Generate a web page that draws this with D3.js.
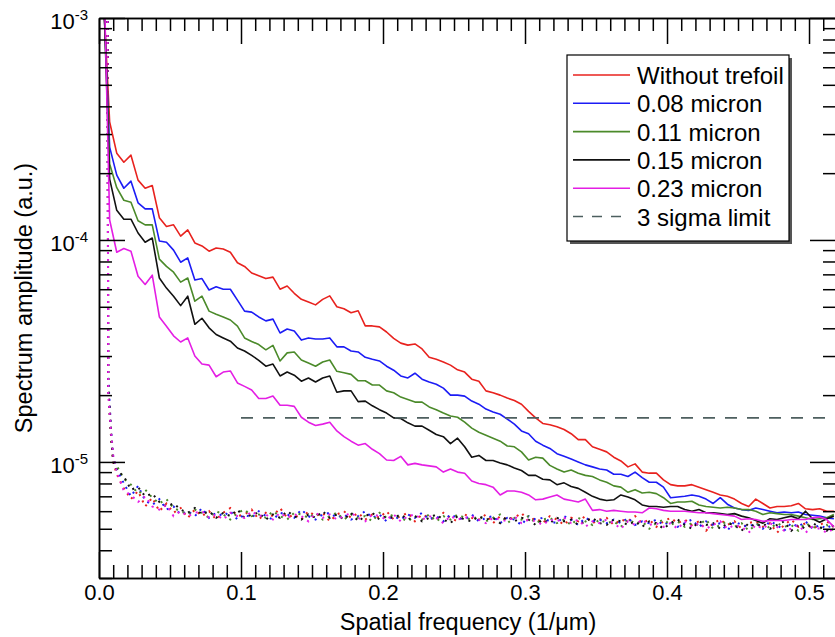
<!DOCTYPE html>
<meta charset="utf-8">
<script src="https://d3js.org/d3.v7.min.js"></script>
<style>
  body { margin: 0; background: #fff; }
  text { font-family: "Liberation Sans", Arial, Helvetica, sans-serif; fill: #000; }
</style>
<div id="chart"></div>
<script>

// spatial frequency grid (1/um) of the measured spectra
var freq = [0.0025, 0.0075, 0.0125, 0.0175, 0.0225, 0.0275, 0.0325, 0.0375, 0.0425, 0.0475,
  0.0525, 0.0575, 0.0625, 0.0675, 0.0725, 0.0775, 0.0825, 0.0875, 0.0925, 0.0975,
  0.1025, 0.1075, 0.1125, 0.1175, 0.1225, 0.1275, 0.1325, 0.1375, 0.1425, 0.1475,
  0.1525, 0.1575, 0.1625, 0.1675, 0.1725, 0.1775, 0.1825, 0.1875, 0.1925, 0.1975,
  0.2025, 0.2075, 0.2125, 0.2175, 0.2225, 0.2275, 0.2325, 0.2375, 0.2425, 0.2475,
  0.2525, 0.2575, 0.2625, 0.2675, 0.2725, 0.2775, 0.2825, 0.2875, 0.2925, 0.2975,
  0.3025, 0.3075, 0.3125, 0.3175, 0.3225, 0.3275, 0.3325, 0.3375, 0.3425, 0.3475,
  0.3525, 0.3575, 0.3625, 0.3675, 0.3725, 0.3775, 0.3825, 0.3875, 0.3925, 0.3975,
  0.4025, 0.4075, 0.4125, 0.4175, 0.4225, 0.4275, 0.4325, 0.4375, 0.4425, 0.4475,
  0.4525, 0.4575, 0.4625, 0.4675, 0.4725, 0.4775, 0.4825, 0.4875, 0.4925, 0.4975,
  0.5025, 0.5075, 0.5125, 0.5175];

// spectrum amplitudes, in units of 1e-6 (a.u.)
var withoutTrefoil = [1500, 340, 246, 224, 241, 186, 171, 176, 126, 115,
  117, 104, 111, 97, 94, 89, 92, 91, 88, 79,
  76, 71, 69, 67, 68, 60, 62, 57.5, 54, 52.5,
  51, 54, 56, 50, 49, 47, 48, 41, 41, 40.6,
  38.5, 36, 34.3, 33.6, 34, 32.3, 29.6, 29, 28.2, 27.3,
  26, 25.4, 23.6, 23.1, 20.9, 20.5, 20, 19.4, 18.9, 18.2,
  16.9, 15.8, 14.9, 14.7, 14.4, 14.0, 13.4, 12.6, 12.6, 11.7,
  11.4, 11.1, 10.5, 10.1, 9.5, 9.8, 9.0, 8.9, 8.9, 8.3,
  7.9, 7.8, 7.8, 7.9, 7.7, 7.5, 7.3, 7.1, 7.0, 6.8,
  6.5, 6.3, 6.8, 6.5, 6.2, 6.3, 6.3, 6.35, 6.5, 6.15,
  6.1, 6.15, 6.0, 6.0];
var micron008 = [1650, 262, 196, 171, 184, 147, 138, 138, 99, 97.7,
  90, 79.4, 83, 66, 67, 59.5, 61.5, 60, 60, 53.6,
  47.8, 47.3, 45, 43.2, 44, 38.1, 39.7, 38.9, 35.4, 36.2,
  35.8, 35.8, 36.2, 33, 33, 31.6, 31.3, 29.6, 29, 28.5,
  27, 25.9, 24.4, 23.9, 25.1, 23.6, 22.9, 22.4, 21.5, 20,
  20, 19.8, 18.8, 18.2, 17.3, 16.8, 16.4, 15.6, 14.8, 13.8,
  13.4, 12.4, 11.9, 11.5, 10.9, 10.6, 10.3, 10.0, 9.7, 9.5,
  9.3, 9.2, 8.8, 8.8, 8.6, 9.0, 8.5, 8.1, 8.1, 7.7,
  6.9, 6.95, 7.0, 7.1, 7.0, 6.8, 6.5, 6.9, 6.45, 6.2,
  6.1, 6.05, 6.2, 6.1, 6.0, 5.9, 5.95, 5.9, 5.95, 5.8,
  5.75, 5.7, 5.6, 5.55];
var micron011 = [1770, 220, 172, 151, 148, 122, 117, 117, 82, 76,
  71.6, 64.6, 67.4, 53, 55.8, 47.8, 46.3, 45, 43.6, 40.9,
  36.2, 34.9, 33.8, 32, 33.5, 28.5, 31, 31.3, 28.8, 27.9,
  27, 28.2, 28.8, 25.6, 25.2, 24.8, 23.2, 23.2, 22.2, 22.2,
  20.9, 20.5, 19.6, 19.1, 18.6, 18.6, 17.7, 17.2, 16.6, 16.1,
  15.9, 15.1, 14.2, 13.6, 13.2, 12.8, 12.4, 11.8, 11.7, 11.1,
  10.2, 10.5, 10.4, 9.65, 9.3, 9.0, 9.2, 8.9, 8.7, 8.6,
  8.3, 8.1, 7.8, 7.7, 7.3, 7.5, 7.25, 7.3, 7.2, 6.9,
  6.5, 6.6, 6.6, 6.65, 6.4, 6.3, 6.25, 6.2, 6.25, 6.2,
  6.1, 6.1, 6.0, 5.8, 5.9, 5.85, 5.8, 5.8, 5.7, 5.6,
  5.5, 5.55, 5.6, 5.8];
var micron015 = [1880, 188, 136, 124, 124, 107.5, 97.7, 102, 67.4, 60.7,
  55.8, 50.6, 55.8, 41.7, 44.4, 40.2, 37.5, 36.2, 35, 32.6,
  31.6, 30.2, 28.7, 27, 27.6, 24.4, 25.4, 24.6, 23.1, 23.9,
  22.9, 23.9, 24.4, 20.6, 20.9, 20.9, 18.7, 18.8, 17.9, 17.2,
  16.6, 15.8, 15.7, 15.0, 14.5, 14.5, 13.9, 13.3, 13.0, 12.1,
  12.8, 11.7, 10.5, 10.7, 10.15, 10.15, 9.9, 9.7, 9.4, 9.15,
  8.7, 8.7, 8.35, 8.3, 7.9, 8.05, 7.75, 7.6, 7.3, 7.0,
  6.8, 6.7, 6.75, 7.1, 6.95, 6.75, 6.4, 6.3, 6.3, 6.25,
  6.3, 6.3, 6.1, 6.0, 6.1, 5.9, 5.9, 5.85, 5.8, 5.85,
  5.7, 5.6, 5.45, 5.3, 5.55, 5.5, 5.6, 5.7, 5.55, 6.0,
  5.55, 5.35, 5.55, 5.7];
var micron023 = [3000, 123, 88, 91.5, 89, 68.6, 63, 69.4, 45, 40.9,
  37, 34.7, 36.2, 30, 27.6, 27.3, 24.2, 25.4, 25.7, 22.7,
  21.9, 21.1, 19.3, 19.3, 19.8, 18.0, 18.0, 17.8, 15.9, 15.1,
  14.6, 14.8, 15.1, 13.8, 13.0, 12.4, 11.9, 12.1, 11.4, 10.9,
  10.2, 10.15, 10.6, 9.7, 9.85, 9.7, 9.6, 9.5, 9.0, 9.3,
  9.0, 8.9, 8.2, 8.0, 7.9, 7.7, 7.1, 7.4, 7.4, 7.3,
  7.1, 6.75, 6.8, 6.95, 7.1, 6.8, 6.7, 6.6, 6.8, 6.05,
  6.1, 6.0, 6.05, 6.0, 5.95, 5.95, 5.9, 6.2, 6.15, 6.05,
  6.0, 6.0, 6.0, 5.95, 5.9, 5.9, 5.85, 5.8, 5.75, 5.7,
  5.5, 5.55, 5.5, 5.4, 5.45, 5.45, 5.45, 5.5, 5.5, 5.5,
  5.6, 5.65, 5.5, 5.1];

// noise spectra (dotted), first four points on their own finer grid
var noiseStart = [0.006, 0.0065, 0.0085, 0.01];
var noiseWithoutTrefoil = [1500, 22, 13, 10,
  8.8, 7.6, 6.8, 7.4, 6.3, 6.9, 6.0, 6.5, 5.9, 6.2,
  5.6, 6.1, 5.7, 6.0, 5.5, 5.9, 6.2, 5.7, 5.8, 6.1,
  5.5, 5.9, 5.7, 6.2, 5.6, 5.8, 5.5, 6.0, 5.7, 5.9,
  5.4, 5.8, 6.0, 5.6, 5.9, 5.5, 5.8, 5.6, 6.0, 5.5,
  5.7, 5.9, 5.4, 5.8, 5.6, 5.5, 5.9, 5.6, 5.4, 5.8,
  5.6, 5.5, 5.8, 5.3, 5.7, 5.5, 5.6, 5.9, 5.4, 5.6,
  5.3, 5.7, 5.5, 5.2, 5.6, 5.4, 5.7, 5.3, 5.5, 5.6,
  5.2, 5.5, 5.4, 5.7, 5.3, 5.5, 5.1, 5.4, 5.6, 5.3,
  5.5, 5.2, 5.4, 4.9, 5.3, 5.5, 5.2, 5.4, 5.0, 5.3,
  5.4, 5.1, 5.3, 4.8, 5.2, 5.5, 5.1, 5.3, 5.0, 5.2,
  5.4, 5.1];
var noise008 = [1500, 24, 14, 10.5,
  9.3, 8.0, 7.0, 7.8, 6.7, 6.4, 6.8, 6.1, 6.3, 5.8,
  6.0, 5.7, 6.2, 5.6, 5.9, 5.7, 6.0, 5.5, 5.8, 5.6,
  6.0, 5.7, 5.5, 5.9, 5.8, 5.6, 6.1, 5.7, 5.5, 5.8,
  5.9, 5.6, 5.8, 5.5, 5.7, 6.0, 5.6, 5.8, 5.4, 5.7,
  5.5, 5.8, 5.6, 5.9, 5.5, 5.7, 5.4, 5.8, 5.6, 5.5,
  5.8, 5.4, 5.6, 5.7, 5.3, 5.6, 5.5, 5.2, 5.7, 5.5,
  5.6, 5.4, 5.3, 5.7, 5.5, 5.2, 5.6, 5.4, 5.5, 5.3,
  5.5, 5.3, 5.6, 5.2, 5.4, 5.3, 5.5, 5.2, 5.4, 5.1,
  5.3, 5.5, 5.1, 5.4, 5.2, 5.3, 4.9, 5.4, 5.2, 5.1,
  5.3, 5.0, 5.4, 5.2, 4.9, 5.3, 5.1, 5.4, 5.0, 5.2,
  5.0, 5.3];
var noise011 = [1500, 21, 13.5, 10.2,
  9.6, 8.4, 7.9, 7.2, 7.5, 6.9, 6.5, 6.8, 6.2, 6.0,
  5.8, 6.1, 5.9, 5.6, 6.0, 5.8, 5.5, 5.9, 6.1, 5.7,
  5.8, 5.6, 6.0, 5.7, 5.5, 5.9, 5.8, 5.6, 5.9, 5.5,
  5.7, 5.9, 5.5, 5.8, 5.6, 5.7, 5.4, 5.9, 5.6, 5.8,
  5.6, 5.4, 5.7, 5.5, 5.8, 5.4, 5.7, 5.5, 5.8, 5.6,
  5.5, 5.7, 5.4, 5.6, 5.8, 5.3, 5.6, 5.5, 5.7, 5.3,
  5.5, 5.6, 5.3, 5.5, 5.2, 5.6, 5.4, 5.2, 5.5, 5.3,
  5.4, 5.1, 5.5, 5.3, 5.4, 5.0, 5.3, 5.5, 5.2, 5.4,
  5.1, 5.3, 5.2, 5.5, 5.0, 5.2, 5.4, 5.1, 5.3, 4.9,
  5.2, 5.4, 5.0, 5.3, 5.1, 5.2, 4.9, 5.3, 5.1, 5.0,
  5.2, 4.9];
var noise015 = [1500, 22, 13, 10,
  9.2, 8.6, 7.5, 7.7, 7.0, 7.2, 6.6, 6.3, 6.5, 6.1,
  5.9, 6.2, 5.8, 6.0, 5.6, 5.9, 5.7, 6.1, 5.6, 5.8,
  5.9, 5.5, 5.8, 5.6, 6.0, 5.7, 5.5, 5.8, 5.6, 6.0,
  5.6, 5.8, 5.5, 5.9, 5.4, 5.7, 5.9, 5.5, 5.7, 5.6,
  5.8, 5.5, 5.7, 5.4, 5.6, 5.8, 5.5, 5.3, 5.7, 5.5,
  5.4, 5.7, 5.5, 5.6, 5.3, 5.7, 5.4, 5.6, 5.5, 5.2,
  5.5, 5.3, 5.6, 5.4, 5.5, 5.2, 5.4, 5.6, 5.3, 5.2,
  5.5, 5.4, 5.2, 5.4, 5.1, 5.4, 5.3, 5.0, 5.3, 5.5,
  5.2, 5.0, 5.4, 5.2, 5.3, 5.0, 5.3, 5.2, 4.9, 5.3,
  5.1, 5.3, 5.0, 5.2, 5.4, 4.9, 5.2, 5.0, 5.3, 5.1,
  4.9, 5.2];
var noise023 = [1500, 20.5, 13.5, 10.7,
  9.0, 7.4, 7.1, 6.6, 7.0, 6.3, 6.1, 6.4, 5.7, 6.0,
  5.7, 5.9, 6.0, 5.6, 5.8, 5.5, 5.9, 5.7, 5.6, 6.0,
  5.7, 5.8, 5.5, 5.9, 5.6, 5.8, 5.7, 5.4, 5.9, 5.6,
  5.8, 5.5, 5.7, 5.9, 5.6, 5.4, 5.8, 5.7, 5.5, 5.8,
  5.4, 5.7, 5.8, 5.5, 5.7, 5.6, 5.3, 5.7, 5.5, 5.6,
  5.7, 5.5, 5.3, 5.6, 5.5, 5.4, 5.7, 5.3, 5.5, 5.4,
  5.2, 5.5, 5.4, 5.6, 5.3, 5.5, 5.1, 5.4, 5.3, 5.5,
  5.3, 5.0, 5.4, 5.2, 5.5, 5.2, 5.3, 5.1, 5.3, 5.0,
  5.4, 5.1, 5.3, 5.0, 5.2, 5.4, 5.0, 5.2, 5.1, 4.8,
  5.2, 5.0, 5.3, 5.1, 4.9, 5.0, 5.2, 4.8, 5.1, 5.0,
  4.8, 5.0];

// 3 sigma detection limit
var sigmaLimit = 1.58e-5;
var sigmaFrom = 0.1;

var seriesNames = ["Without trefoil", "0.08 micron", "0.11 micron", "0.15 micron", "0.23 micron"];
var seriesColors = ["#e8221e", "#1c1cf5", "#4b8a2a", "#111111", "#e41ee4"];
var unit = 1e-6;

// plot box in page pixels
var box = {left: 99, right: 836, top: 18, bottom: 578};

var svg = d3.select("#chart")
  .append("svg")
    .attr("width", 835)
    .attr("height", 637);

var x = d3.scaleLinear()
  .domain([0, 0.519])
  .range([box.left, box.right]);

var y = d3.scaleLog()
  .domain([3e-6, 1e-3])
  .range([box.bottom, box.top]);

svg.append("clipPath")
    .attr("id", "plotClip")
  .append("rect")
    .attr("x", box.left)
    .attr("y", box.top)
    .attr("width", box.right - box.left)
    .attr("height", box.bottom - box.top);

var plot = svg.append("g").attr("clip-path", "url(#plotClip)");

var noiseFreq = noiseStart.concat(freq.slice(2));
var noiseSeries = [noiseWithoutTrefoil, noise008, noise011, noise015, noise023];
var spectra = [withoutTrefoil, micron008, micron011, micron015, micron023];

// dotted noise floors
noiseSeries.forEach(function(vals, k) {
  plot.append("path")
    .datum(vals)
    .attr("d", d3.line()
      .x(function(d, i) { return x(noiseFreq[i]); })
      .y(function(d) { return y(d * unit); }))
    .attr("fill", "none")
    .attr("stroke", seriesColors[k])
    .attr("stroke-width", 2)
    .attr("stroke-dasharray", "2,5");
});

// measured spectra
spectra.forEach(function(vals, k) {
  plot.append("path")
    .datum(vals)
    .attr("d", d3.line()
      .x(function(d, i) { return x(freq[i]); })
      .y(function(d) { return y(d * unit); }))
    .attr("fill", "none")
    .attr("stroke", seriesColors[k])
    .attr("stroke-width", 1.6)
    .attr("stroke-linejoin", "round");
});

// 3 sigma limit
plot.append("line")
  .attr("x1", x(sigmaFrom))
  .attr("x2", box.right)
  .attr("y1", y(sigmaLimit))
  .attr("y2", y(sigmaLimit))
  .attr("stroke", "#4d5f5f")
  .attr("stroke-width", 1.6)
  .attr("stroke-dasharray", "12,10");

// axes, ticks pointing inward on all four sides
var xMajor = [0, 0.1, 0.2, 0.3, 0.4, 0.5];
var xMinor = d3.range(1, 52).map(function(i) { return i / 100; })
  .filter(function(v) { return Math.round(v * 100) % 10 !== 0; });
var yMajor = [1e-5, 1e-4, 1e-3];
var yMinor = [];
[1e-6, 1e-5, 1e-4].forEach(function(dec) {
  for (var m = 2; m <= 9; m++) {
    if (m * dec >= 3e-6) yMinor.push(m * dec);
  }
});

function styleAxis(g) {
  g.selectAll("path, line").attr("stroke", "#000").attr("stroke-width", 1.5);
}

svg.append("g")
  .attr("transform", "translate(0," + box.bottom + ")")
  .call(d3.axisBottom(x).tickValues(xMinor).tickSize(-13).tickSizeOuter(0).tickFormat(""))
  .call(styleAxis);
svg.append("g")
  .attr("transform", "translate(0," + box.bottom + ")")
  .call(d3.axisBottom(x).tickValues(xMajor).tickSize(-26).tickSizeOuter(0)
    .tickPadding(6).tickFormat(d3.format(".1f")))
  .call(styleAxis)
  .selectAll("text")
    .style("font-size", "22px")
    .attr("fill", "#000");

svg.append("g")
  .attr("transform", "translate(0," + box.top + ")")
  .call(d3.axisTop(x).tickValues(xMinor).tickSize(-13).tickSizeOuter(0).tickFormat(""))
  .call(styleAxis);
svg.append("g")
  .attr("transform", "translate(0," + box.top + ")")
  .call(d3.axisTop(x).tickValues(xMajor).tickSize(-26).tickSizeOuter(0).tickFormat(""))
  .call(styleAxis);

svg.append("g")
  .attr("transform", "translate(" + box.left + ",0)")
  .call(d3.axisLeft(y).tickValues(yMinor).tickSize(-13).tickSizeOuter(0).tickFormat(""))
  .call(styleAxis);
svg.append("g")
  .attr("transform", "translate(" + box.left + ",0)")
  .call(d3.axisLeft(y).tickValues(yMajor).tickSize(-26).tickSizeOuter(0).tickFormat(""))
  .call(styleAxis);

svg.append("g")
  .attr("transform", "translate(" + box.right + ",0)")
  .call(d3.axisRight(y).tickValues(yMinor).tickSize(-13).tickSizeOuter(0).tickFormat(""))
  .call(styleAxis);
svg.append("g")
  .attr("transform", "translate(" + box.right + ",0)")
  .call(d3.axisRight(y).tickValues(yMajor).tickSize(-26).tickSizeOuter(0).tickFormat(""))
  .call(styleAxis);

// y tick labels as powers of ten
var yLab = svg.append("g").selectAll("text")
  .data(yMajor)
  .enter()
  .append("text")
    .attr("x", 88)
    .attr("y", function(d) { return y(d) + 11; })
    .attr("text-anchor", "end")
    .style("font-size", "22px");
yLab.append("tspan").text("10");
yLab.append("tspan")
  .attr("dy", -9)
  .style("font-size", "15px")
  .text(function(d) { return Math.round(Math.log10(d)); });

// axis titles
svg.append("text")
  .attr("x", 468)
  .attr("y", 630)
  .attr("text-anchor", "middle")
  .style("font-size", "23.5px")
  .text("Spatial frequency (1/\u03bcm)");

svg.append("text")
  .attr("transform", "translate(32,298) rotate(-90)")
  .attr("text-anchor", "middle")
  .style("font-size", "23.5px")
  .text("Spectrum amplitude (a.u.)");

// legend
var legend = svg.append("g");
legend.append("rect")
  .attr("x", 570).attr("y", 58)
  .attr("width", 222).attr("height", 186)
  .attr("fill", "#555");
legend.append("rect")
  .attr("x", 567).attr("y", 55)
  .attr("width", 222).attr("height", 186)
  .attr("fill", "#fff")
  .attr("stroke", "#000")
  .attr("stroke-width", 1.2);

var legendItems = seriesNames.map(function(n, i) {
  return {name: n, color: seriesColors[i], dash: null};
});
legendItems.push({name: "3 sigma limit", color: "#4d5f5f", dash: "10,9"});

legendItems.forEach(function(d, i) {
  var ly = 75 + i * 28.3;
  legend.append("line")
    .attr("x1", 573).attr("x2", 630)
    .attr("y1", ly).attr("y2", ly)
    .attr("stroke", d.color)
    .attr("stroke-width", 1.6)
    .attr("stroke-dasharray", d.dash);
  legend.append("text")
    .attr("x", 637)
    .attr("y", ly + 9)
    .style("font-size", "24px")
    .text(d.name);
});

</script>
